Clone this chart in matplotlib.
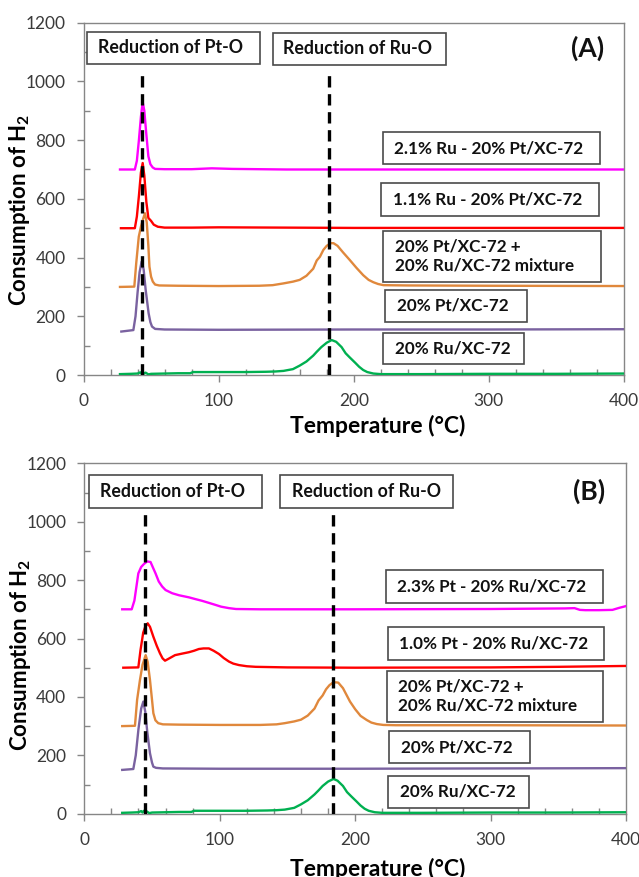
import matplotlib
matplotlib.use("Agg")
import matplotlib.pyplot as plt
from matplotlib.patches import Rectangle
from matplotlib.ticker import MultipleLocator

plt.rcParams['font.family'] = ['Lato', 'DejaVu Sans']
plt.rcParams['mathtext.fontset'] = 'custom'
plt.rcParams['mathtext.rm'] = 'Lato'
plt.rcParams['mathtext.bf'] = 'Lato:bold'

# ---------------- Panel A data ----------------
a_ru21_x = [27, 38, 39.5, 41, 42.5, 43.8, 45, 46.5, 48, 49.5, 51.2, 53, 60, 80, 95, 110, 150, 200, 250, 300, 350, 400]
a_ru21_y = [700, 700, 730, 800, 880, 930, 900, 820, 745, 718, 707, 702, 701, 701, 704, 702, 700, 700, 700, 700, 700, 700]

a_ru11_x = [27.7, 38, 39.5, 41, 42.5, 43.8, 45, 46.5, 48, 50, 52, 55, 60, 80, 100, 150, 200, 250, 300, 400]
a_ru11_y = [500, 500, 540, 610, 690, 722, 680, 590, 535, 525, 512, 505, 502, 502, 503, 502, 501, 501, 501, 501]

a_mix_x = [27, 37.6, 39, 40.9, 42.5, 44, 45.5, 46.8, 48, 48.8, 50, 51.3, 53, 56, 70, 100, 130, 140, 148, 155,
           160, 165, 170, 172.6, 175, 177.5, 180, 183, 185, 188, 192, 197, 202, 207, 211, 214.5, 218, 222, 240, 300, 400]
a_mix_y = [300, 301, 380, 471, 505, 530, 551, 520, 440, 369, 335, 318, 308, 305, 304, 303, 304, 306, 312, 318,
           324, 338, 362, 390, 403, 426, 440, 449, 449, 440, 418, 392, 365, 340, 324, 316, 310, 306, 305, 304, 303]

a_pt_x = [28, 36.9, 38.5, 40, 41.5, 43, 44.5, 46, 48.2, 49.5, 50.7, 53, 60, 100, 200, 300, 400]
a_pt_y = [148, 153, 200, 280, 350, 386, 360, 290, 210, 180, 165, 157, 155, 154, 155, 155, 156]

a_ru_x = [27, 35, 40, 42, 43, 44, 45, 46, 48, 50, 60, 70, 79, 81, 100, 120, 135, 142, 148, 155, 160, 165, 170,
          172.6, 176, 180, 183.7, 187, 191, 194, 197, 201, 204, 207, 210, 214.5, 220, 250, 300, 350, 400]
a_ru_y = [3, 4, 5, 9, 4, 10, 5, 8, 2, 4, 5, 6, 6, 10, 10, 10, 11, 12, 14, 20, 32, 46, 66,
          79, 95, 110, 119, 113, 95, 74, 60, 42, 28, 17, 10, 5, 3, 3, 4, 4, 5]

# ---------------- Panel B data ----------------
b_pt23_x = [28, 35, 37, 39.9, 42, 44, 46.4, 48.9, 50.5, 52.6, 55, 57.5, 60, 64.9, 70, 77.2, 82, 87, 92, 96.9,
            101, 106.8, 112, 130, 200, 300, 355, 362, 366, 370, 380, 390, 395, 400]
b_pt23_y = [700, 700, 730, 823, 845, 855, 864, 862, 845, 823, 795, 778, 766, 755, 748, 741, 735, 729, 722, 715,
            709, 704, 701, 700, 700, 701, 703, 704, 698, 697, 697, 698, 705, 711]

b_pt10_x = [28.8, 39.9, 41.5, 43.5, 45, 46.8, 48.5, 51, 53.5, 55.9, 57.8, 59.6, 62, 67, 72, 77.2, 81, 84.6, 88, 92,
            95.5, 99.4, 103, 106.8, 110, 114.2, 120, 126.5, 150, 200, 300, 350, 400]
b_pt10_y = [500, 501, 560, 620, 640, 652, 640, 606, 575, 549, 532, 524, 530, 543, 548, 553, 558, 564, 566, 566,
            558, 547, 533, 521, 514, 509, 505, 503, 501, 500, 501, 503, 506]

b_mix_x = [28, 37.4, 39, 41.1, 43, 45.3, 46.8, 48.5, 50, 51, 52.5, 54.6, 58, 70, 100, 130, 142, 148, 155, 160,
           165, 170, 173, 176, 178.5, 181, 183, 185.1, 187.5, 191, 196.2, 200, 204, 208.5, 212, 216, 220.8, 230, 300, 400]
b_mix_y = [300, 301, 390, 458, 510, 543, 520, 458, 390, 344, 320, 310, 306, 305, 304, 304, 306, 310, 316, 322,
           336, 360, 388, 405, 426, 440, 447, 450, 449, 430, 384, 358, 335, 321, 312, 307, 304, 303, 303, 302]

b_pt_x = [28, 36.2, 38, 40, 42, 43.6, 45, 46.5, 48.5, 50, 51, 53, 58, 100, 200, 300, 400]
b_pt_y = [150, 153, 200, 290, 360, 384, 350, 280, 207, 175, 161, 157, 155, 154, 154, 155, 156]

b_ru_x = [28, 35, 40, 42, 43, 44, 45, 46, 48, 50, 60, 70, 79, 81, 100, 120, 135, 142, 148, 155, 160, 165, 170,
          173, 176, 180, 184, 187, 191, 194, 197, 201, 204, 207, 210, 214.5, 220, 250, 300, 350, 400]
b_ru_y = [3, 4, 5, 9, 4, 10, 5, 8, 2, 4, 5, 6, 6, 10, 10, 10, 11, 12, 14, 20, 32, 46, 66,
          80, 95, 110, 119, 113, 95, 74, 60, 42, 28, 17, 10, 5, 3, 3, 4, 4, 5]

a_labels = ["2.1% Ru - 20% Pt/XC-72", "1.1% Ru - 20% Pt/XC-72",
            "20% Pt/XC-72 +\n20% Ru/XC-72 mixture", "20% Pt/XC-72", "20% Ru/XC-72"]
b_labels = ["2.3% Pt - 20% Ru/XC-72", "1.0% Pt - 20% Ru/XC-72",
            "20% Pt/XC-72 +\n20% Ru/XC-72 mixture", "20% Pt/XC-72", "20% Ru/XC-72"]
region_labels = ["Reduction of Pt-O", "Reduction of Ru-O"]
a_ref_x = [43.5, 182]
b_ref_x = [44.8, 184]
ref_top = 1030

colors = ['#FF00FF', '#FF0000', '#E0883C', '#7A62A0', '#00B050']

# layout (box extents in data units: x0, x1, y0, y1, text_x)
a_boxes = [(221.4, 382.3, 718.7, 827.7, 229.8),
           (220.2, 381.3, 541.5, 653.9, 228.8),
           (221.6, 383.0, 317.8, 491.5, 230.6),
           (223.1, 328.0, 180.6, 289.6, 231.8),
           (221.6, 326.0, 36.1, 143.8, 230.6)]
a_rboxes = [(2.4, 130.6, 1059, 1169, 10.5), (140.0, 268.3, 1056, 1166, 147.9)]
b_boxes = [(222.6, 382.8, 722.6, 834.6, 231.1),
           (224.0, 384.0, 527.0, 637.7, 232.4),
           (223.3, 383.1, 314.7, 489.4, 231.9),
           (225.0, 329.0, 172.6, 283.2, 233.6),
           (224.3, 328.3, 20.9, 130.5, 233.1)]
b_rboxes = [(3.5, 131.2, 1047, 1160, 11.6), (144.5, 272.3, 1047, 1160, 153.1)]

W, H = 639, 877
fig = plt.figure(figsize=(W / 100, H / 100), dpi=100)

def px_axes(x0, x1, ytop, ybot):
    return [x0 / W, 1 - ybot / H, (x1 - x0) / W, (ybot - ytop) / H]

axA = fig.add_axes(px_axes(83.5, 624, 22.7, 375))
axB = fig.add_axes(px_axes(84.3, 626, 463.3, 813.7))

grey = '#868686'

def style(ax):
    ax.set_xlim(0, 400)
    ax.set_ylim(0, 1200)
    ax.xaxis.set_major_locator(MultipleLocator(100))
    ax.xaxis.set_minor_locator(MultipleLocator(20))
    ax.yaxis.set_major_locator(MultipleLocator(200))
    ax.yaxis.set_minor_locator(MultipleLocator(100))
    for s in ax.spines.values():
        s.set_color(grey)
        s.set_linewidth(1.0)
    ax.tick_params(which='major', direction='out', length=5, width=1, color=grey,
                   labelsize=12.5, labelcolor='#3a3a3a', pad=8)
    ax.tick_params(which='minor', direction='in', length=4, width=1, color=grey)
    ax.tick_params(top=False, right=False, which='both')

def draw(ax, series, labels, boxes, rboxes, refx, tag, tagpos):
    style(ax)
    for (x, y), c in zip(series, colors):
        ax.plot(x, y, color=c, lw=1.7, zorder=3)
    for xv in refx:
        ax.plot([xv, xv], [0, ref_top], color='black', lw=2.4,
                linestyle=(0, (3.4, 2.0)), zorder=4)
    for (x0, x1, y0, y1, tx), lab in zip(boxes, labels):
        ax.add_patch(Rectangle((x0, y0), x1 - x0, y1 - y0, facecolor='white',
                               edgecolor='#4a4a4a', lw=1.2, zorder=5))
        ax.text(tx, (y0 + y1) / 2, lab, ha='left', va='center', fontsize=12.3,
                fontweight='bold', color='#111111', zorder=6, linespacing=1.25)
    for (x0, x1, y0, y1, tx), lab in zip(rboxes, region_labels):
        ax.add_patch(Rectangle((x0, y0), x1 - x0, y1 - y0, facecolor='white',
                               edgecolor='#4a4a4a', lw=1.2, zorder=5))
        ax.text(tx, (y0 + y1) / 2, lab, ha='left', va='center', fontsize=12.8,
                fontweight='bold', color='#111111', zorder=6)
    ax.text(tagpos[0], tagpos[1], tag, ha='center', va='center', fontsize=19,
            fontweight='bold', color='#111111', zorder=6)

draw(axA, [(a_ru21_x, a_ru21_y), (a_ru11_x, a_ru11_y), (a_mix_x, a_mix_y),
           (a_pt_x, a_pt_y), (a_ru_x, a_ru_y)],
     a_labels, a_boxes, a_rboxes, a_ref_x, '(A)', (373.4, 1114))
draw(axB, [(b_pt23_x, b_pt23_y), (b_pt10_x, b_pt10_y), (b_mix_x, b_mix_y),
           (b_pt_x, b_pt_y), (b_ru_x, b_ru_y)],
     b_labels, b_boxes, b_rboxes, b_ref_x, '(B)', (372.7, 1103))

ylab = r'Consumption of H$_\mathbf{2}$'
fig.text(19.5 / W, 1 - 210 / H, ylab, rotation=90, ha='center', va='center',
         fontsize=16, fontweight='bold')
fig.text(21 / W, 1 - 655 / H, ylab, rotation=90, ha='center', va='center',
         fontsize=16, fontweight='bold')
fig.text(378 / W, 1 - 426 / H, 'Temperature (°C)', ha='center', va='center',
         fontsize=16.5, fontweight='bold')
fig.text(378 / W, 1 - 869 / H, 'Temperature (°C)', ha='center', va='center',
         fontsize=16.5, fontweight='bold')

fig.savefig('out.png', dpi=100, facecolor='white')
